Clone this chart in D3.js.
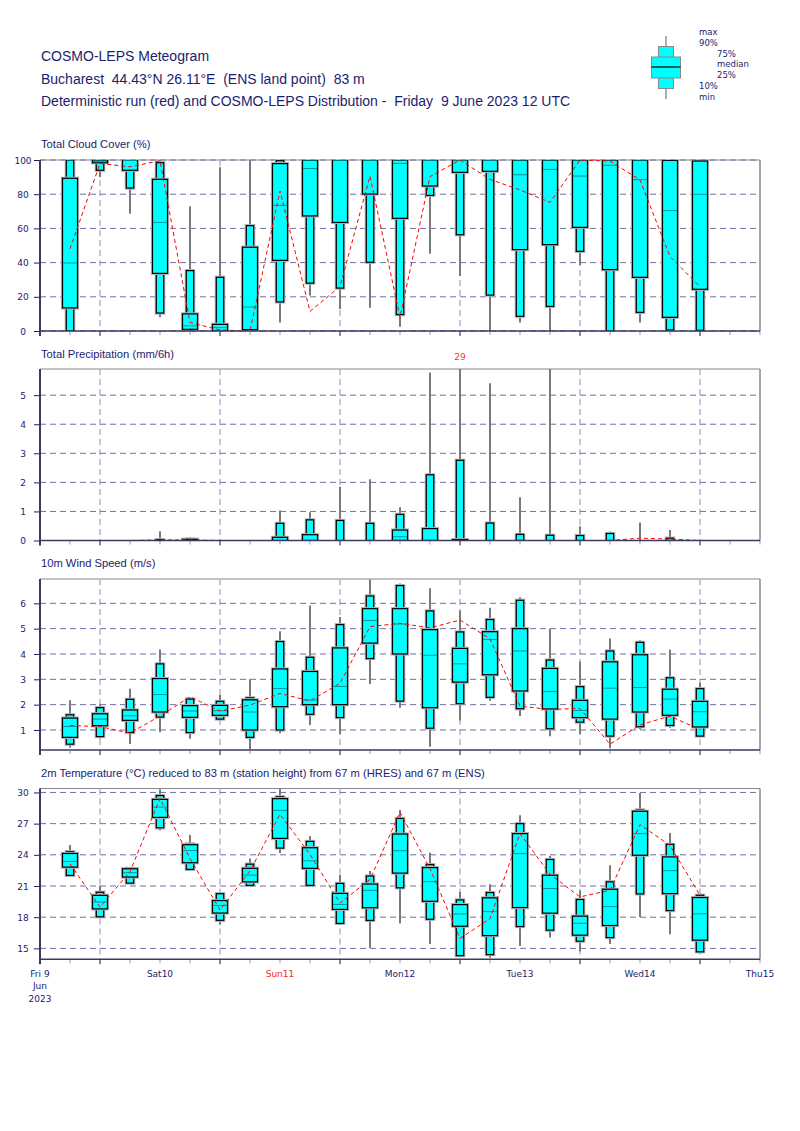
<!DOCTYPE html>
<html><head><meta charset="utf-8">
<script src="https://cdn.jsdelivr.net/npm/d3@7"></script>
<style>body{margin:0;background:#fff} text{white-space:pre}</style>
</head><body>
<script>
// ---------- DATA ----------
const stepHours = [6,12,18,24,30,36,42,48,54,60,66,72,78,84,90,96,102,108,114,120,126,132];
const dayLabels = [["Fri 9","Jun","2023"],["Sat10"],["Sun11"],["Mon12"],["Tue13"],["Wed14"],["Thu15"]];
const dayHours = [0,24,48,72,96,120,144];
const midnightHours = [12,36,60,84,108,132];

// rows: [min, p10, p25, median, p75, p90, max]
const cloudStats = [
 [0,0,13.5,39.8,89.3,100,100],[90,94,98.4,99,100,100,100],[68.6,83.6,94,99.8,100,100,100],
 [8,10.5,33.7,63.5,88.7,98.4,100],[0,0,1,3,10,35.3,73],[0,0,0,2,3.9,31.4,95.7],
 [0,0,0.8,14,49,61.6,100],[5,17,41.3,73.5,97.9,99.6,100],[20.7,28,67.3,95,100,100,100],
 [12.9,25.1,63.5,100,100,100,100],[13.6,40.2,80.1,100,100,100,100],[2.5,9.6,65.9,98,100,100,100],
 [45.2,79.3,84.8,100,100,100,100],[32.2,56.3,92.8,100,100,100,100],[0,21,93.4,100,100,100,100],
 [5,8.6,47.6,91.4,100,100,100],[0,14.4,50.5,94.5,100,100,100],[38.6,46.6,60.6,90.6,100,100,100],
 [0,0,35.9,96.9,100,100,100],[4.9,10.9,31.4,88.5,100,100,100],[0,0.6,8,70.4,99.8,100,100],
 [0,0.4,24.4,79.9,99.4,100,100]];
const cloudDet = [48,98,96,99.6,5,0.6,0,81.9,11.5,26,90.6,8,90.3,100,88.7,82.5,75.2,100,99.4,88.3,43.5,25.9];

const precipStats = [
 [0,0,0,0,0,0,0],[0,0,0,0,0,0,0],[0,0,0,0,0,0,0.01],[0,0,0,0,0.01,0.03,0.32],
 [0,0,0,0,0.04,0.05,0.1],[0,0,0,0,0,0,0],[0,0,0,0,0,0,0],[0,0,0,0,0.11,0.59,1.03],
 [0,0,0,0,0.2,0.71,0.97],[0,0,0,0,0,0.69,1.85],[0,0,0,0,0,0.59,2.11],[0,0,0,0.13,0.36,0.9,1.14],
 [0,0,0,0,0.41,2.26,5.78],[0,0,0,0,0.03,2.76,29],[0,0,0,0,0,0.6,5.41],[0,0,0,0,0,0.21,1.49],
 [0,0,0,0,0,0.18,5.9],[0,0,0,0,0,0.17,0.49],[0,0,0,0,0,0.24,0.31],[0,0,0,0,0,0.01,0.62],
 [0,0,0,0,0,0.08,0.36],[0,0,0,0,0,0,0]];
const precipDet = [0,0,0,0.02,0.02,0,0,0,0,0,0,0,0,0,0,0,0,0,0,0.08,0.05,0];

const windStats = [
 [0.30,0.44,0.71,1.14,1.47,1.6,2.17],[0.66,0.74,1.17,1.43,1.64,1.88,2.01],[0.45,0.9,1.38,1.56,1.79,2.21,2.63],
 [0.91,1.51,1.71,2.4,3.03,3.61,4.18],[0.65,0.9,1.5,1.75,1.96,2.22,2.29],[1.41,1.43,1.58,1.76,1.97,2.13,2.38],
 [0.24,0.71,1.0,1.71,2.19,2.27,3.0],[0.87,1.0,1.92,2.64,3.41,4.49,4.9],[1.2,1.62,2.0,2.18,3.31,3.87,5.91],
 [0.84,1.49,2.0,2.72,4.24,5.16,5.46],[2.82,3.82,4.43,5.32,5.79,6.29,6.94],[1.88,2.14,4.0,5.18,5.79,6.7,6.78],
 [0.34,1.07,1.88,3.95,4.96,5.7,6.59],[1.37,2.04,2.89,3.61,4.22,4.87,5.72],[2.15,2.29,3.18,4.57,4.88,5.36,5.83],
 [1.55,1.84,2.54,4.12,5.0,6.12,6.24],[0.75,1.05,1.83,2.52,3.43,3.76,5.0],[0.84,1.31,1.49,1.77,2.17,2.71,3.69],
 [0.28,0.76,1.43,2.65,3.69,4.12,4.61],[1.03,1.13,1.71,2.68,3.97,4.46,4.54],[1.09,1.18,1.58,2.22,2.61,3.06,4.18],
 [0.76,0.76,1.12,1.72,2.13,2.63,2.86]];
const windDet = [1.18,1.13,0.88,1.55,2.31,1.75,1.98,2.44,2.15,2.84,5.08,5.21,5.03,5.34,4.6,1.94,1.81,1.85,0.44,1.2,1.55,1.01];

const tempStats = [
 [22.0,22.02,22.82,23.37,24.13,24.3,24.94],[18.0,18.04,18.8,19.46,20.1,20.4,21.03],[21.25,21.28,21.86,22.28,22.66,22.7,22.8],
 [26.35,26.6,27.6,28.59,29.33,29.7,30.3],[22.6,22.6,23.24,24.42,24.97,25.06,25.9],[17.3,17.7,18.4,19.13,19.6,20.26,20.3],
 [21.0,21.06,21.4,22.05,22.7,23.1,23.65],[24.17,24.65,25.58,28.27,29.4,29.58,30.32],[21.0,21.06,22.7,23.43,24.68,25.29,25.8],
 [17.35,17.4,18.75,19.23,20.29,21.25,22.05],[15.06,17.69,18.91,20.58,21.19,21.96,22.44],[17.4,20.83,22.24,24.4,26.0,27.5,28.3],
 [15.43,17.8,19.53,21.42,22.77,23.06,24.21],[14.3,14.3,17.13,18.31,19.21,19.66,20.43],[14.1,14.4,16.23,18.54,19.86,20.37,21.17],
 [15.24,17.1,18.93,24.12,26.04,27.0,27.8],[16.05,16.75,18.39,20.76,22.04,23.55,23.9],[14.73,15.69,16.27,17.42,18.1,19.7,20.56],
 [15.43,16.04,17.2,19.02,20.69,21.4,23.0],[18.03,20.24,23.96,26.04,28.19,28.32,29.95],[16.37,18.64,20.27,22.48,23.8,25.01,26.1],
 [14.55,14.67,15.79,18.32,19.89,20.11,20.18]];
const tempDet = [23.14,18.97,22.37,29.42,23.65,18.7,22.44,27.9,24.04,19.36,21.63,28.1,22.67,15.95,17.87,26.04,22.13,19.95,20.59,26.91,24.9,20.11];

const cloudTicks = [0,20,40,60,80,100];
const precipTicks = [0,1,2,3,4,5];
const windTicks = [1,2,3,4,5,6];
const tempTicks = [15,18,21,24,27,30];

const headerLines = ["COSMO-LEPS Meteogram",
  "Bucharest  44.43°N 26.11°E  (ENS land point)  83 m",
  "Deterministic run (red) and COSMO-LEPS Distribution -  Friday  9 June 2023 12 UTC"];
const legendLabels = ["max","90%","75%","median","25%","10%","min"];

// ---------- DRAW ----------
const W = 800, H = 1131;
const navy = "#1c1c6e";
const svg = d3.select("body").append("svg").attr("width", W).attr("height", H)
  .style("font-family","'Liberation Sans', Arial, sans-serif");

const x = d3.scaleLinear().domain([0,144]).range([40,760]);

// header
svg.selectAll("text.hdr").data(headerLines).join("text").attr("class","hdr")
  .attr("x",41).attr("y",(d,i)=>[61,84,106][i]).attr("font-size",14).attr("fill",navy)
  .attr("xml:space","preserve").text(d=>d);

// legend
(function(){
  const g = svg.append("g");
  const cx = 666, ys = [36,46.5,57,67,78,88.5,99];
  g.append("line").attr("x1",cx).attr("x2",cx).attr("y1",ys[0]).attr("y2",ys[6]).attr("stroke","#777").attr("stroke-width",1.2);
  g.append("rect").attr("x",cx-7.5).attr("width",15).attr("y",ys[1]).attr("height",ys[5]-ys[1])
    .attr("fill","#00ffff").attr("stroke","#888").attr("stroke-width",1);
  g.append("rect").attr("x",cx-14.5).attr("width",29).attr("y",ys[2]).attr("height",ys[4]-ys[2])
    .attr("fill","#00ffff").attr("stroke","#888").attr("stroke-width",1);
  g.append("line").attr("x1",cx-14.5).attr("x2",cx+14.5).attr("y1",ys[3]).attr("y2",ys[3]).attr("stroke","#000").attr("stroke-width",1.2);
  const lx = [699,699,717,717,717,699,699];
  const ly = [35,46,56.5,67,78,89,100];
  g.selectAll("text").data(legendLabels).join("text")
    .attr("x",(d,i)=>lx[i]).attr("y",(d,i)=>ly[i]).attr("font-size",8.5)
    .attr("font-family","'DejaVu Sans', sans-serif").attr("fill",navy).text(d=>d);
})();

const panels = [
  {title:"Total Cloud Cover (%)", top:160, bottom:331, domain:[0,100], ticks:cloudTicks, stats:cloudStats, det:cloudDet, titleY:148},
  {title:"Total Precipitation (mm/6h)", top:369, bottom:540.5, domain:[0,5.9], ticks:precipTicks, stats:precipStats, det:precipDet, titleY:358},
  {title:"10m Wind Speed (m/s)", top:579, bottom:750, domain:[0.21,6.96], ticks:windTicks, stats:windStats, det:windDet, titleY:567},
  {title:"2m Temperature (°C) reduced to 83 m (station height) from 67 m (HRES) and 67 m (ENS)", top:788.5, bottom:959.3, domain:[13.95,30.38], ticks:tempTicks, stats:tempStats, det:tempDet, titleY:777, last:true}
];

panels.forEach((p,pi)=>{
  const y = d3.scaleLinear().domain(p.domain).range([p.bottom,p.top]);
  const g = svg.append("g");
  const clipId = "clip"+pi;
  svg.append("clipPath").attr("id",clipId).append("rect")
    .attr("x",40).attr("y",p.top).attr("width",720).attr("height",p.bottom-p.top);

  g.append("text").attr("x",41).attr("y",p.titleY).attr("font-size",11.2).attr("fill",navy).text(p.title);

  // frame top & right
  g.append("line").attr("x1",40).attr("x2",760).attr("y1",p.top).attr("y2",p.top).attr("stroke","#888").attr("stroke-width",1.2);
  g.append("line").attr("x1",760).attr("x2",760).attr("y1",p.top).attr("y2",p.bottom).attr("stroke","#888").attr("stroke-width",1.5);

  // vertical grid
  g.selectAll("line.vg").data(midnightHours).join("line").attr("class","vg")
    .attr("x1",d=>x(d)).attr("x2",d=>x(d)).attr("y1",p.top).attr("y2",p.bottom)
    .attr("stroke","#b4b4d2").attr("stroke-width",1.5).attr("stroke-dasharray","6,4");
  // horizontal grid
  g.selectAll("line.hg").data(p.ticks).join("line").attr("class","hg")
    .attr("x1",40).attr("x2",760).attr("y1",d=>y(d)).attr("y2",d=>y(d))
    .attr("stroke","#7070a8").attr("stroke-width",1).attr("stroke-dasharray","6,4");

  // bottom axis ticks
  const minorH = d3.range(0,145,6);
  g.selectAll("line.mt").data(minorH).join("line").attr("class","mt")
    .attr("x1",d=>x(d)).attr("x2",d=>x(d)).attr("y1",p.bottom).attr("y2",d=>p.bottom+(midnightHours.includes(d)?5:4))
    .attr("stroke",d=>midnightHours.includes(d)?"#6a6a9a":"#a8a8c8").attr("stroke-width",d=>midnightHours.includes(d)?1.6:1.2);

  // left axis via d3
  const ax = d3.axisLeft(y).tickValues(p.ticks).tickSize(6).tickPadding(0).tickFormat(d3.format("d"));
  const ag = svg.append("g").attr("transform","translate(40,0)").call(ax);
  ag.select(".domain").remove();
  ag.selectAll(".tick line").attr("stroke",navy).attr("stroke-width",1);
  ag.selectAll(".tick text").attr("x",-17).attr("text-anchor","middle").attr("dy","0.35em")
    .attr("font-size",9).attr("font-family","'DejaVu Sans', sans-serif").attr("fill",navy);

  // marks
  const mg = svg.append("g").attr("clip-path",`url(#${clipId})`);
  const rows = p.stats.map((s,i)=>({h:stepHours[i], s}));
  // whiskers
  mg.selectAll("line.wh").data(rows).join("line").attr("class","wh")
    .attr("x1",d=>x(d.h)).attr("x2",d=>x(d.h)).attr("y1",d=>y(d.s[0])).attr("y2",d=>y(Math.min(d.s[6],p.domain[1]+1)))
    .attr("stroke","#7a7a7a").attr("stroke-width",2);
  const boxes = [[1,5,3.7],[2,4,7.5]];
  boxes.forEach(([lo,hi,hw])=>{
    mg.selectAll(null).data(rows.filter(d=>y(d.s[lo])-y(d.s[hi])>0.3)).join("rect")
      .attr("x",d=>x(d.h)-hw).attr("width",hw*2).attr("y",d=>y(d.s[hi])).attr("height",d=>y(d.s[lo])-y(d.s[hi]))
      .attr("fill","none").attr("stroke","#b0b0b0").attr("stroke-width",3.2);
    mg.selectAll(null).data(rows.filter(d=>y(d.s[lo])-y(d.s[hi])>0.3)).join("rect")
      .attr("x",d=>x(d.h)-hw).attr("width",hw*2).attr("y",d=>y(d.s[hi])).attr("height",d=>y(d.s[lo])-y(d.s[hi]))
      .attr("fill","#00ffff").attr("stroke","#000").attr("stroke-width",1.2);
  });
  mg.selectAll("line.md").data(rows.filter(d=>d.s[3]>p.domain[0]&&d.s[4]-d.s[2]>0)).join("line").attr("class","md")
    .attr("x1",d=>x(d.h)-7).attr("x2",d=>x(d.h)+7).attr("y1",d=>y(d.s[3])).attr("y2",d=>y(d.s[3]))
    .attr("stroke","#009a9a").attr("stroke-width",1);

  // deterministic
  const line = d3.line().x((d,i)=>x(stepHours[i])).y(d=>y(d));
  mg.append("path").datum(p.det).attr("d",line).attr("fill","none")
    .attr("stroke","#ff0000").attr("stroke-width",1).attr("stroke-dasharray","4,3");

  // off-scale max labels
  svg.selectAll(null).data(rows.filter(d=>d.s[6]>p.domain[1]+0.05)).join("text")
    .attr("x",d=>x(d.h)).attr("y",p.top-9).attr("text-anchor","middle").attr("font-size",9)
    .attr("font-family","'DejaVu Sans', sans-serif").attr("fill","#ff3030").text(d=>d3.format("d")(d.s[6]));

  // left & bottom axis lines
  svg.append("line").attr("x1",40).attr("x2",760).attr("y1",p.bottom).attr("y2",p.bottom).attr("stroke","#3a3a62").attr("stroke-width",1.5);
  svg.append("line").attr("x1",40).attr("x2",40).attr("y1",p.top).attr("y2",p.bottom+5).attr("stroke","#3a3a62").attr("stroke-width",2);

  if(p.last){
    const lg = svg.append("g");
    dayHours.forEach((h,i)=>{
      const t = lg.append("text").attr("x",x(h)).attr("text-anchor","middle").attr("font-size",9)
        .attr("font-family","'DejaVu Sans', sans-serif").attr("fill",i===2?"#ff2020":navy);
      dayLabels[i].forEach((s,j)=>{
        t.append("tspan").attr("x",x(h)).attr("y",976.5+j*12.5).text(s);
      });
    });
  }
});
</script>
</body></html>
